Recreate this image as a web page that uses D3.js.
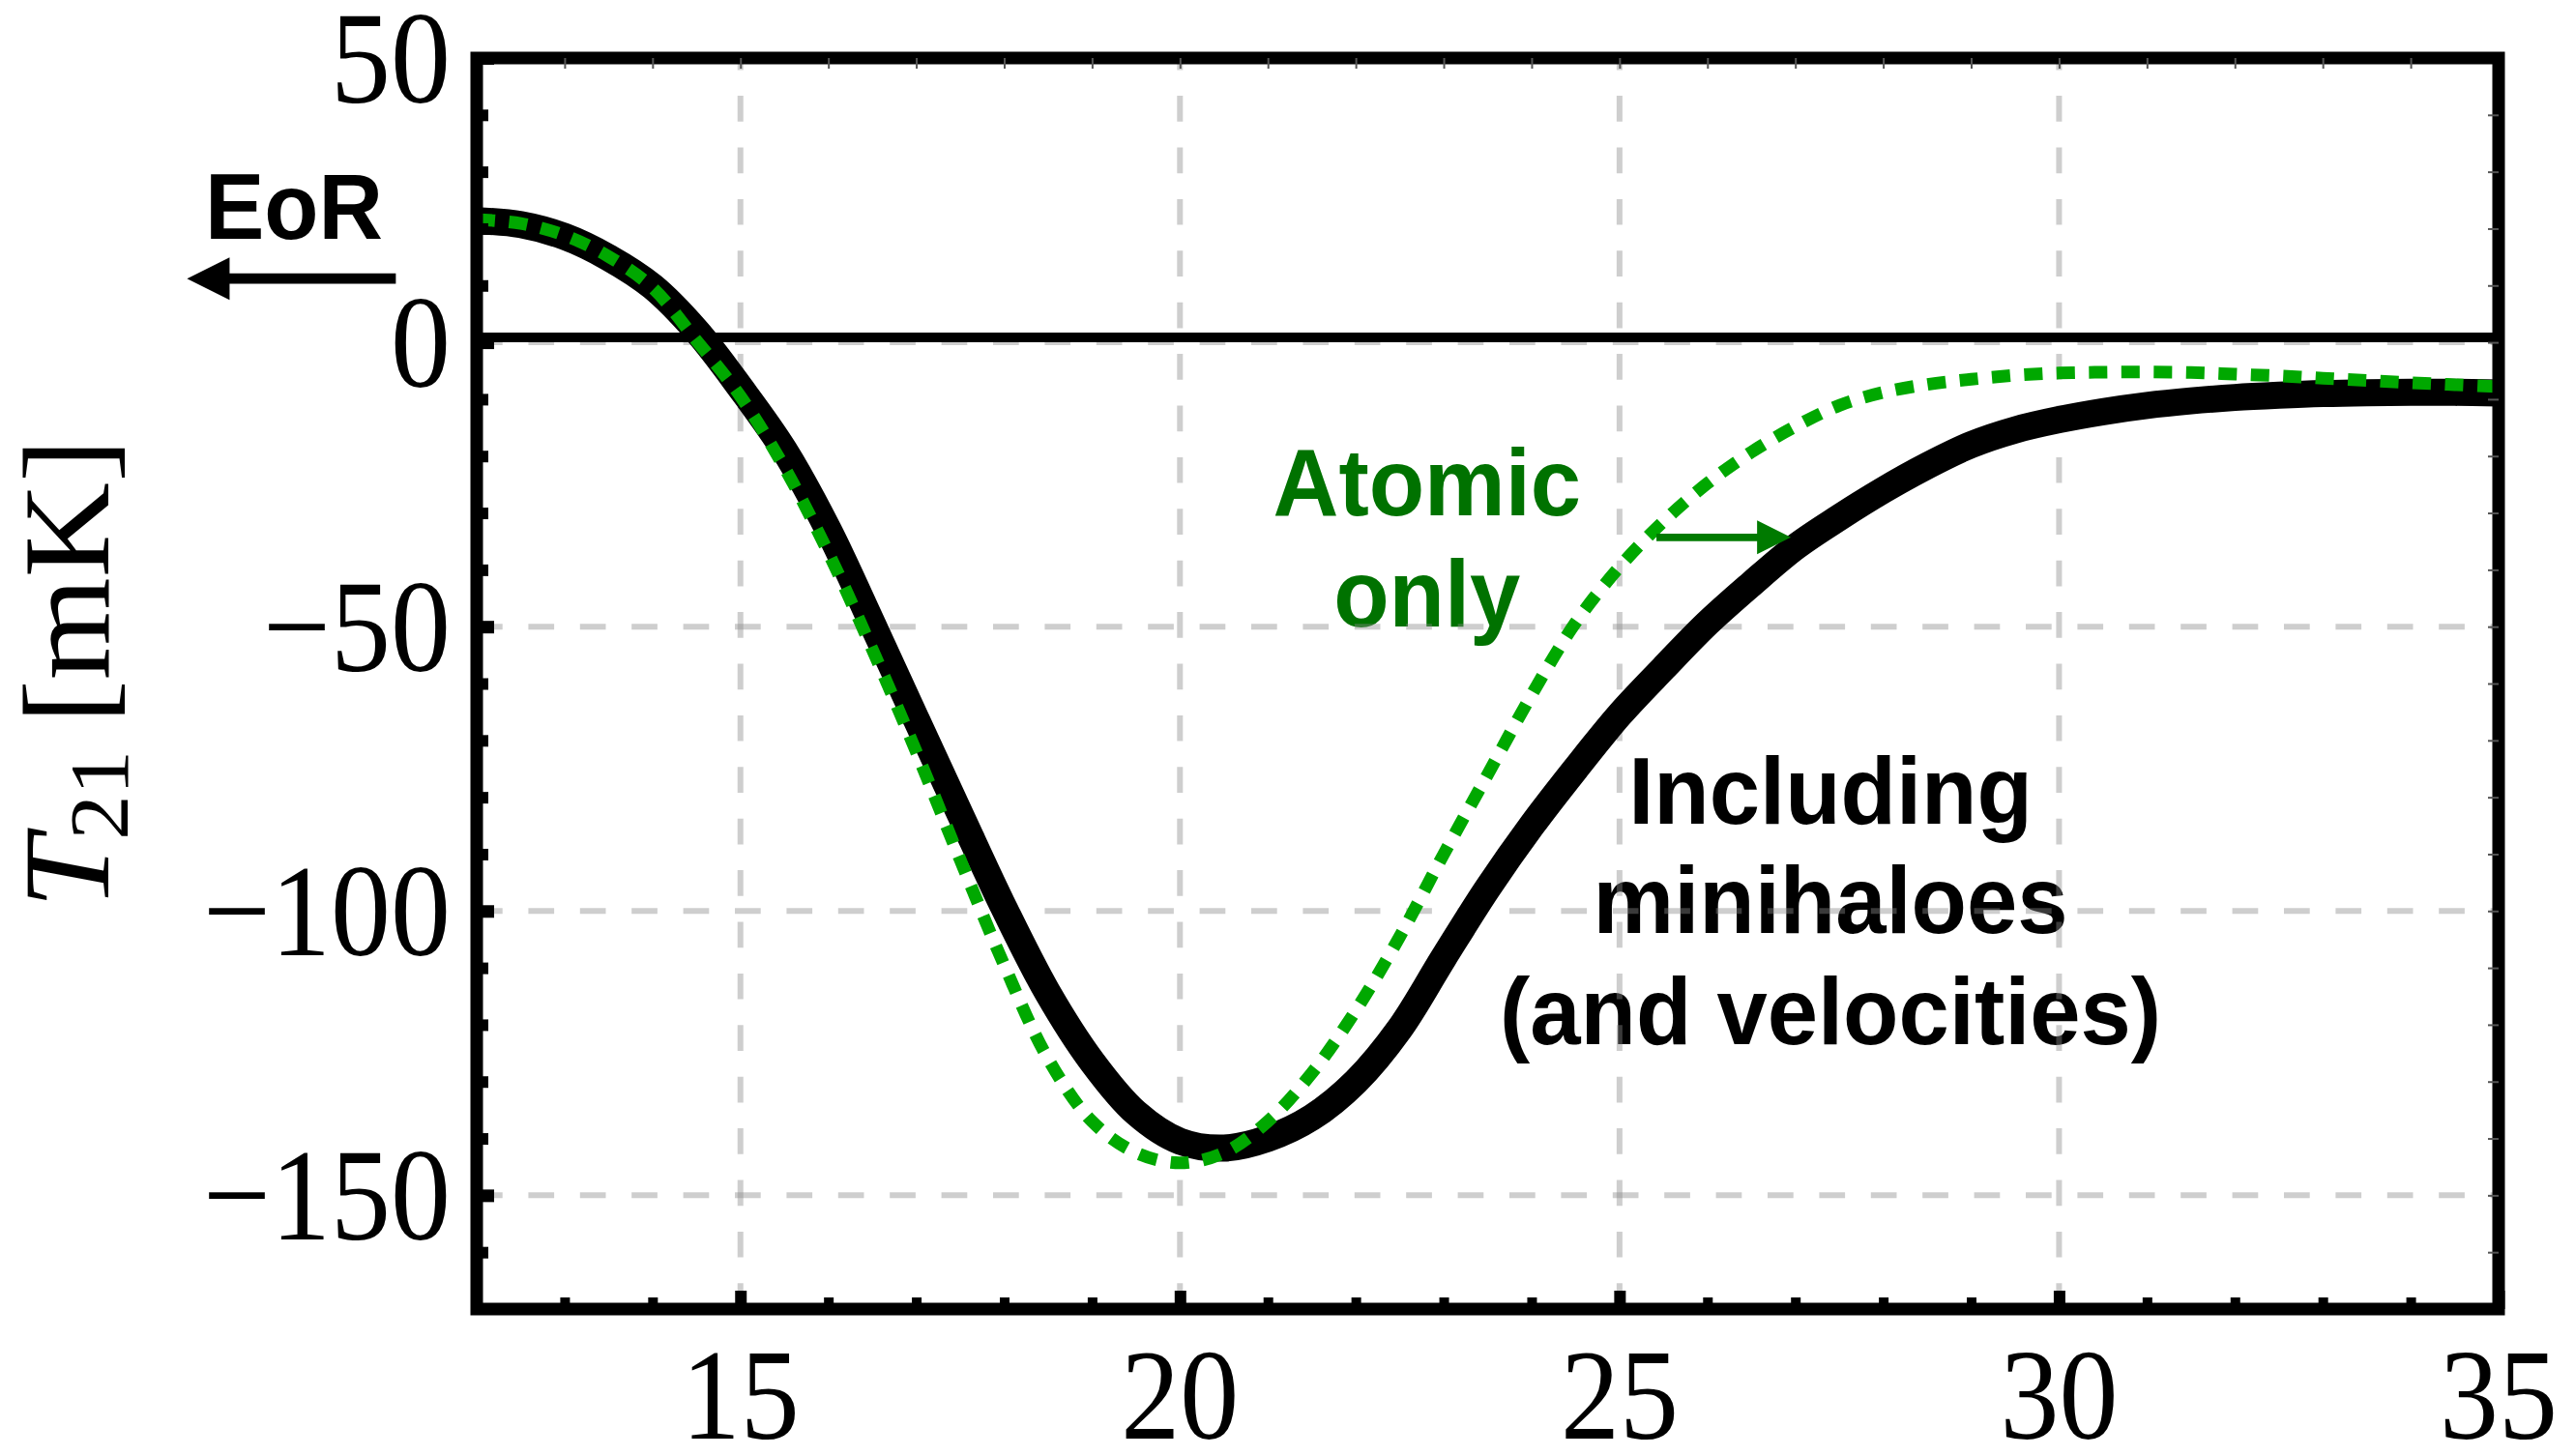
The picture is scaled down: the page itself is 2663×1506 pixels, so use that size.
<!DOCTYPE html>
<html>
<head>
<meta charset="utf-8">
<script src="https://cdn.jsdelivr.net/npm/d3@7"></script>
<style>
  body { margin: 0; background: #fff; }
  svg { display: block; }
</style>
</head>
<body>
<div id="chart"></div>
<script>
/******************************* data **************************/
// redshift z (shared by both curves)
var zVals = [12, 12.5, 13, 13.5, 14, 14.5, 15, 15.5, 16, 16.5, 17, 17.5, 18, 18.5, 19, 19.5,
             20, 20.5, 21, 21.5, 22, 22.5, 23, 23.5, 24, 24.5, 25, 25.5, 26, 26.5, 27, 27.5,
             28, 28.5, 29, 29.5, 30, 30.5, 31, 31.5, 32, 32.5, 33, 33.5, 34, 34.5, 35];

// T21 [mK], "Including minihaloes (and velocities)" - thick black curve
var tMini = [21.4, 20.7, 18.6, 14.9, 9.8, 2.0, -8, -19, -33, -49.5, -66.3, -83, -99.5, -114.5, -126.5, -135.5,
             -140.5, -141.7, -140, -136.3, -130, -120.7, -108.2, -96, -85, -75, -65.5, -57.3, -49.4, -42.5, -36, -30.8,
             -26, -21.7, -18, -15.4, -13.6, -12.2, -11.1, -10.3, -9.7, -9.3, -9.0, -8.85, -8.8, -8.8, -8.9];

// T21 [mK], "Atomic only" - green dotted curve
var tAtomic = [21.6, 20.9, 18.8, 15.1, 9.6, 0.3, -9.5, -22, -37, -54, -72, -91, -109.5, -126, -137, -142.5,
               -144.3, -142.5, -137, -128.5, -117.5, -104.5, -90, -76, -62, -49.3, -39.5, -31.5, -24.8, -19.3, -14.8, -11.1,
               -8.8, -7.4, -6.5, -5.8, -5.4, -5.25, -5.2, -5.3, -5.6, -5.9, -6.3, -6.7, -7.1, -7.45, -7.8];

// ticks, labels and grid
var xTickLabels = [15, 20, 25, 30, 35];
var yTickLabels = [50, 0, -50, -100, -150];
var xGrid = [15, 20, 25, 30];
var yGrid = [0, -50, -100, -150];

/******************************* layout **************************/
var width = 2663, height = 1506;
var plot = {left: 493, right: 2584, top: 60, bottom: 1354};

var x = d3.scaleLinear().domain([12, 35]).range([plot.left, plot.right]);
var y = d3.scaleLinear().domain([-170, 50]).range([plot.bottom, plot.top]);

var serif = "'Liberation Serif', 'Times New Roman', serif";
var sans = "'Liberation Sans', Arial, Helvetica, sans-serif";

var svg = d3.select("#chart").append("svg")
    .attr("width", width)
    .attr("height", height);

svg.append("rect")
    .attr("width", width)
    .attr("height", height)
    .attr("fill", "#fff");

// text that is slightly stretched vertically, like the original figure
function stretchedText(parent, px, py, str, opts) {
  return parent.append("text")
      .attr("transform", "translate(" + px + "," + py + ") scale(1," + opts.sy + ")")
      .attr("text-anchor", opts.anchor || "middle")
      .attr("font-family", opts.family)
      .attr("font-weight", opts.weight || "normal")
      .attr("font-size", opts.size)
      .attr("fill", opts.fill || "#000")
      .text(str);
}

/******************************* annotations (under grid) **************************/
var notes = svg.append("g").attr("class", "notes");

stretchedText(notes, x(22.81), y(-30.4), "Atomic", {family: sans, weight: "bold", size: 94, sy: 1.05, fill: "#007200"});
stretchedText(notes, x(22.81), y(-50), "only", {family: sans, weight: "bold", size: 94, sy: 1.05, fill: "#007200"});

stretchedText(notes, x(27.40), y(-84.6), "Including", {family: sans, weight: "bold", size: 94, sy: 1.05});
stretchedText(notes, x(27.40), y(-103.9), "minihaloes", {family: sans, weight: "bold", size: 94, sy: 1.05});
stretchedText(notes, x(27.40), y(-123.5), "(and velocities)", {family: sans, weight: "bold", size: 94, sy: 1.05});

/******************************* grid **************************/
var grid = svg.append("g")
    .attr("stroke", "rgb(138,138,138)")
    .attr("stroke-opacity", 0.42)
    .attr("stroke-width", 6)
    .attr("stroke-dasharray", "26.7 26.7");

grid.selectAll("line.v")
  .data(xGrid)
  .enter().append("line")
    .attr("class", "v")
    .attr("x1", function(d) { return x(d); })
    .attr("x2", function(d) { return x(d); })
    .attr("y1", plot.bottom)
    .attr("y2", plot.top);

grid.selectAll("line.h")
  .data(yGrid)
  .enter().append("line")
    .attr("class", "h")
    .attr("x1", plot.left)
    .attr("x2", plot.right)
    .attr("y1", function(d) { return y(d); })
    .attr("y2", function(d) { return y(d); });

// solid zero line, sits just above the dashed zero grid line
svg.append("line")
    .attr("x1", plot.left)
    .attr("x2", plot.right)
    .attr("y1", y(0) - 5)
    .attr("y2", y(0) - 5)
    .attr("stroke", "#000")
    .attr("stroke-width", 10);

/******************************* curves **************************/
var line = d3.line()
    .x(function(d) { return x(d[0]); })
    .y(function(d) { return y(d[1]); })
    .curve(d3.curveCatmullRom.alpha(0.5));

var miniPts = zVals.map(function(z, i) { return [z, tMini[i]]; });
var atomicPts = zVals.map(function(z, i) { return [z, tAtomic[i]]; });

svg.append("path")
    .datum(miniPts)
    .attr("d", line)
    .attr("fill", "none")
    .attr("stroke", "#000")
    .attr("stroke-width", 28)
    .attr("stroke-linejoin", "round");

svg.append("path")
    .datum(atomicPts)
    .attr("d", line)
    .attr("fill", "none")
    .attr("stroke", "#00a800")
    .attr("stroke-width", 13)
    .attr("stroke-dasharray", "19 14.5");

/******************************* arrows **************************/
function arrow(x0, x1, yy, color, lw, headLen, headH) {
  var dir = x1 > x0 ? 1 : -1;
  var g = svg.append("g");
  g.append("line")
      .attr("x1", x0)
      .attr("x2", x1 - dir * headLen * 0.8)
      .attr("y1", yy)
      .attr("y2", yy)
      .attr("stroke", color)
      .attr("stroke-width", lw);
  g.append("path")
      .attr("d", "M" + x1 + "," + yy +
                 "L" + (x1 - dir * headLen) + "," + (yy - headH / 2) +
                 "L" + (x1 - dir * headLen) + "," + (yy + headH / 2) + "Z")
      .attr("fill", color);
}

// green: atomic -> with minihaloes
arrow(x(25.42), x(26.95), y(-34.3), "#007a00", 7.7, 35, 35);
// black: EoR to the left
arrow(x(11.08), x(8.705), y(11.2), "#000", 10.7, 44, 44);

stretchedText(svg, x(9.92), y(18.2), "EoR", {family: sans, weight: "bold", size: 92, sy: 1.05});

/******************************* frame & ticks **************************/
svg.append("rect")
    .attr("x", plot.left)
    .attr("y", plot.top)
    .attr("width", plot.right - plot.left)
    .attr("height", plot.bottom - plot.top)
    .attr("fill", "none")
    .attr("stroke", "#000")
    .attr("stroke-width", 13);

var xMinor = d3.range(13, 35).filter(function(d) { return xTickLabels.indexOf(d) < 0; });
var yMinor = d3.range(-160, 50, 10).filter(function(d) { return yTickLabels.indexOf(d) < 0; });

function styleTicks(g, w, color) {
  g.select(".domain").remove();
  g.selectAll(".tick line").attr("stroke", color).attr("stroke-width", w);
}

// bottom: thick stubs
svg.append("g")
    .attr("transform", "translate(0," + plot.bottom + ")")
    .call(d3.axisBottom(x).tickValues(xMinor).tickSize(-12).tickFormat(""))
    .call(styleTicks, 10, "#000");
svg.append("g")
    .attr("transform", "translate(0," + plot.bottom + ")")
    .call(d3.axisBottom(x).tickValues(xTickLabels).tickSize(-19).tickFormat(""))
    .call(styleTicks, 12, "#000");

// left: thick stubs
svg.append("g")
    .attr("transform", "translate(" + plot.left + ",0)")
    .call(d3.axisLeft(y).tickValues(yMinor).tickSize(-12).tickFormat(""))
    .call(styleTicks, 12, "#000");
svg.append("g")
    .attr("transform", "translate(" + plot.left + ",0)")
    .call(d3.axisLeft(y).tickValues(yTickLabels).tickSize(-18).tickFormat(""))
    .call(styleTicks, 13, "#000");

// top and right: thin ticks
svg.append("g")
    .attr("transform", "translate(0," + plot.top + ")")
    .call(d3.axisTop(x).tickValues(d3.range(13, 35)).tickSize(-11).tickFormat(""))
    .call(styleTicks, 2, "#555");
svg.append("g")
    .attr("transform", "translate(" + plot.right + ",0)")
    .call(d3.axisRight(y).tickValues(d3.range(-160, 50, 10)).tickSize(-11).tickFormat(""))
    .call(styleTicks, 2, "#555");

/******************************* tick labels **************************/
var fmt = function(d) { return d < 0 ? "\u2212" + Math.abs(d) : String(d); };

xTickLabels.forEach(function(d) {
  stretchedText(svg, x(d), 1488, fmt(d), {family: serif, size: 122, sy: 1.1});
});

yTickLabels.forEach(function(d) {
  stretchedText(svg, 466, y(d) + 46, fmt(d), {family: serif, size: 124, sy: 1.1, anchor: "end"});
});

// y axis title: T_21 [mK]
var ylab = svg.append("text")
    .attr("transform", "translate(112,940) scale(1,1.08) rotate(-90)")
    .attr("text-anchor", "start")
    .attr("font-family", serif)
    .attr("font-size", 126)
    .attr("fill", "#000");
ylab.append("tspan").attr("font-style", "italic").text("T");
ylab.append("tspan").attr("font-size", 86).attr("dy", 20).attr("dx", -4).text("21");
ylab.append("tspan").attr("dy", -20).text("\u2009[mK]");
</script>
</body>
</html>
